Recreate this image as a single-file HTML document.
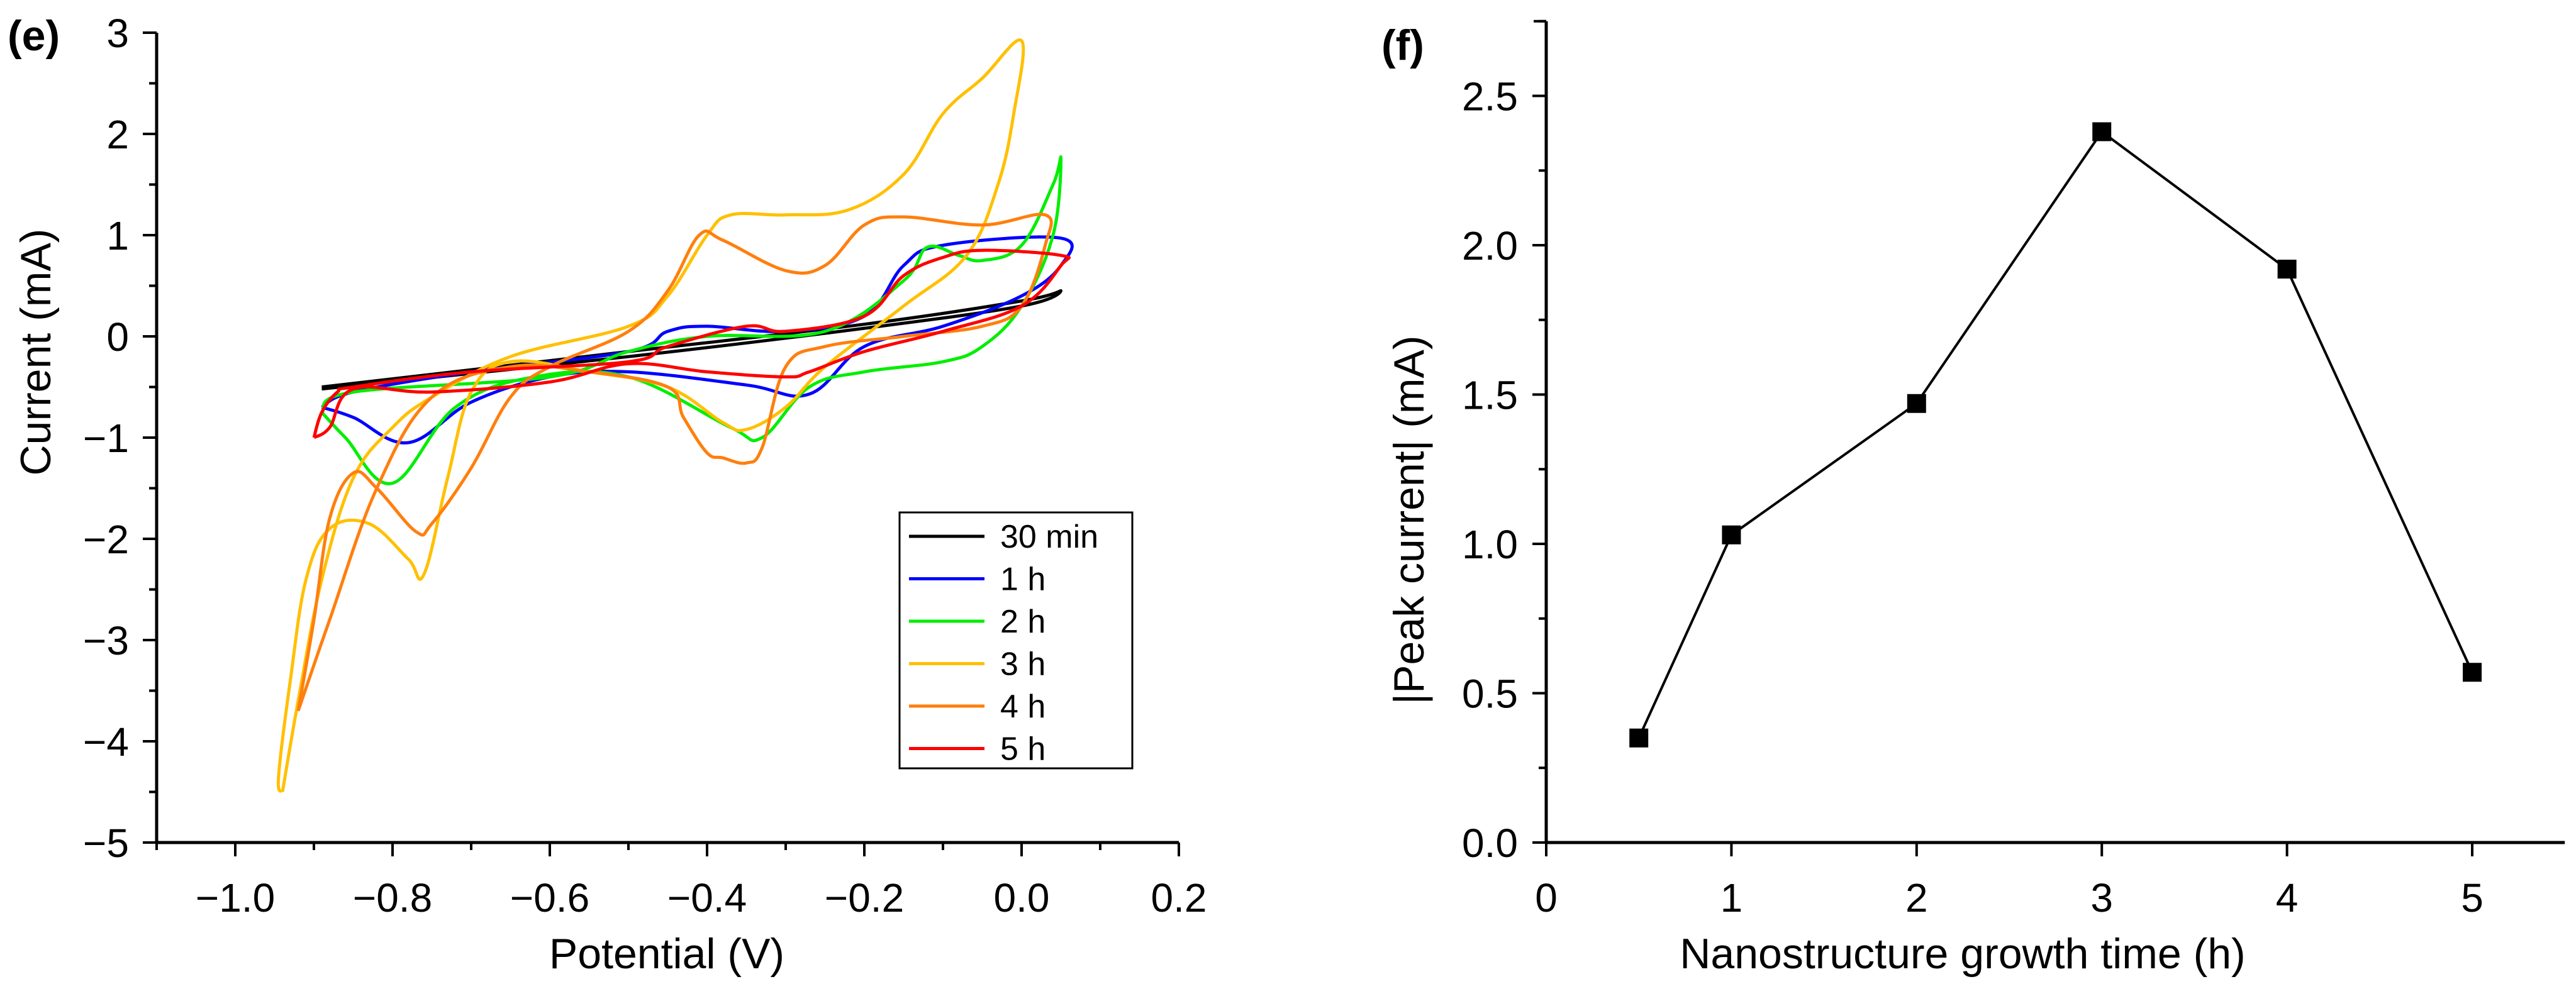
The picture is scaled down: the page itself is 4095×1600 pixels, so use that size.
<!DOCTYPE html>
<html><head><meta charset="utf-8"><style>
body{margin:0;background:#fff}
svg{display:block}
text{font-family:"Liberation Sans",Arial,sans-serif;fill:#000}
</style></head><body>
<svg id="fig" width="4095" height="1600" viewBox="0 0 4095 1600" xmlns="http://www.w3.org/2000/svg">
<text x="12" y="80" font-size="68" font-weight="bold">(e)</text>
<text x="2196" y="95" font-size="68" font-weight="bold">(f)</text>
<g id="left"></g>
<g id="right"></g>
</svg>
<script>
const cvNames = ["30 min","1 h","2 h","3 h","4 h","5 h"];
const cvColors = ["#000000","#0000ff","#00ee00","#ffc000","#ff7f0e","#ff0000"];
const cv30min = [[-0.89,-0.5],[-0.7,-0.33],[-0.5,-0.15],[-0.2,0.12],[0,0.35],[0.05,0.45],[0,0.3],[-0.2,0.08],[-0.5,-0.2],[-0.89,-0.52]];
const cv1h = [[-0.89,-0.7],[-0.85,-0.55],[-0.7,-0.35],[-0.5,-0.15],[-0.45,0.05],[-0.4,0.1],[-0.3,0.05],[-0.2,0.2],[-0.15,0.7],[-0.1,0.9],[0.05,0.97],[0.05,0.7],[0,0.4],[-0.1,0.1],[-0.2,-0.1],[-0.27,-0.57],[-0.35,-0.48],[-0.5,-0.35],[-0.6,-0.4],[-0.7,-0.65],[-0.78,-1.05],[-0.85,-0.8],[-0.89,-0.7]];
const cv2h = [[-0.89,-0.75],[-0.85,-0.55],[-0.6,-0.4],[-0.5,-0.15],[-0.4,0.0],[-0.25,0.05],[-0.15,0.55],[-0.12,0.88],[-0.08,0.8],[-0.05,0.75],[0,0.9],[0.04,1.5],[0.05,1.75],[0.04,1.0],[0.0,0.3],[-0.05,-0.1],[-0.1,-0.25],[-0.2,-0.35],[-0.27,-0.5],[-0.33,-1.0],[-0.37,-0.9],[-0.5,-0.4],[-0.62,-0.4],[-0.72,-0.7],[-0.8,-1.45],[-0.86,-1.0],[-0.89,-0.75]];
const cv3h = [[-0.94,-4.5],[-0.92,-3.6],[-0.89,-2.4],[-0.85,-1.4],[-0.8,-0.9],[-0.75,-0.6],[-0.65,-0.2],[-0.5,0.1],[-0.45,0.4],[-0.4,1.0],[-0.37,1.2],[-0.3,1.2],[-0.22,1.25],[-0.15,1.6],[-0.1,2.2],[-0.05,2.55],[0,2.92],[-0.01,2.2],[-0.03,1.5],[-0.07,0.8],[-0.15,0.3],[-0.25,-0.3],[-0.3,-0.7],[-0.35,-0.92],[-0.38,-0.85],[-0.45,-0.5],[-0.55,-0.35],[-0.65,-0.25],[-0.7,-0.55],[-0.73,-1.4],[-0.76,-2.35],[-0.78,-2.2],[-0.83,-1.85],[-0.88,-1.9],[-0.91,-2.4],[-0.93,-3.4],[-0.945,-4.35],[-0.94,-4.5]];
const cv4h = [[-0.92,-3.7],[-0.9,-2.8],[-0.88,-1.8],[-0.85,-1.35],[-0.82,-1.5],[-0.77,-1.93],[-0.75,-1.85],[-0.7,-1.3],[-0.65,-0.6],[-0.6,-0.3],[-0.5,0.05],[-0.45,0.45],[-0.41,1.0],[-0.38,0.95],[-0.3,0.65],[-0.25,0.7],[-0.2,1.1],[-0.15,1.18],[-0.05,1.1],[0.03,1.2],[0.03,0.9],[0.0,0.3],[-0.05,0.1],[-0.15,0.0],[-0.25,-0.1],[-0.3,-0.3],[-0.33,-1.1],[-0.35,-1.25],[-0.38,-1.2],[-0.4,-1.15],[-0.43,-0.8],[-0.45,-0.5],[-0.55,-0.35],[-0.65,-0.3],[-0.75,-0.6],[-0.82,-1.5],[-0.88,-2.8],[-0.92,-3.7]];
const cv5h = [[-0.9,-1.0],[-0.89,-0.75],[-0.87,-0.55],[-0.85,-0.5],[-0.7,-0.35],[-0.5,-0.25],[-0.45,-0.1],[-0.35,0.1],[-0.3,0.05],[-0.2,0.2],[-0.15,0.6],[-0.1,0.78],[-0.05,0.85],[0.05,0.8],[0.05,0.7],[0.0,0.3],[-0.1,0.05],[-0.2,-0.15],[-0.27,-0.35],[-0.3,-0.4],[-0.4,-0.35],[-0.5,-0.27],[-0.6,-0.45],[-0.75,-0.55],[-0.85,-0.52],[-0.88,-0.9],[-0.9,-1.0]];
const cvSeries = [cv30min,cv1h,cv2h,cv3h,cv4h,cv5h];
const cvXTicks = [-1.0,-0.8,-0.6,-0.4,-0.2,0.0,0.2];
const cvXTickLabels = ["\u22121.0","\u22120.8","\u22120.6","\u22120.4","\u22120.2","0.0","0.2"];
const cvYTicks = [3,2,1,0,-1,-2,-3,-4,-5];
const cvYTickLabels = ["3","2","1","0","\u22121","\u22122","\u22123","\u22124","\u22125"];

const growthTimes = [0.5,1,2,3,4,5];
const peakCurrents = [0.35,1.03,1.47,2.38,1.92,0.57];
const fXTicks = [0,1,2,3,4,5];
const fXTickLabels = ["0","1","2","3","4","5"];
const fYTicks = [0,0.5,1.0,1.5,2.0,2.5];
const fYTickLabels = ["0.0","0.5","1.0","1.5","2.0","2.5"];

const NS="http://www.w3.org/2000/svg";
function mk(parent,tag,attrs,txt){const e=document.createElementNS(NS,tag);for(const k in attrs)e.setAttribute(k,attrs[k]);if(txt!==undefined)e.textContent=txt;parent.appendChild(e);return e;}
function smooth(pts){
  let d='M'+pts[0][0].toFixed(1)+','+pts[0][1].toFixed(1);
  for(let i=0;i<pts.length-1;i++){
    const p0=pts[Math.max(0,i-1)],p1=pts[i],p2=pts[i+1],p3=pts[Math.min(pts.length-1,i+2)];
    const t=0.18;
    const c1=[p1[0]+(p2[0]-p0[0])*t,p1[1]+(p2[1]-p0[1])*t];
    const c2=[p2[0]-(p3[0]-p1[0])*t,p2[1]-(p3[1]-p1[1])*t];
    d+=' C'+c1[0].toFixed(1)+','+c1[1].toFixed(1)+' '+c2[0].toFixed(1)+','+c2[1].toFixed(1)+' '+p2[0].toFixed(1)+','+p2[1].toFixed(1);
  }
  return d;
}

const L=document.getElementById('left');
const lx=v=>249+(v+1.1)*1250;
const ly=v=>52+(3-v)*161;
const lx0=lx(-1.1), lx1=lx(0.2), ly0=ly(-5), ly1=ly(3);
let e;
e=mk(L,'line',{x1:lx0,y1:ly1,x2:lx0,y2:ly0+2,stroke:'#000','stroke-width':5});


e=mk(L,'line',{x1:lx0-2,y1:ly0,x2:lx1,y2:ly0,stroke:'#000','stroke-width':5});


for(let v=-1.1;v<=0.201;v+=0.1){const X=lx(v);const major=cvXTicks.some(t=>Math.abs(t-v)<1e-6);mk(L,'line',{x1:X,y1:ly0,x2:X,y2:ly0+(major?22:12),stroke:'#000','stroke-width':4});}
cvXTicks.forEach((t,i)=>{e=mk(L,'text',{x:lx(t),y:1450,'font-size':64,'text-anchor':'middle'},cvXTickLabels[i]);

});
for(let v=-5;v<=3.001;v+=0.5){const Y=ly(v);const major=Math.abs(v-Math.round(v))<1e-6;mk(L,'line',{x1:lx0,y1:Y,x2:lx0-(major?22:12),y2:Y,stroke:'#000','stroke-width':4});}
cvYTicks.forEach((t,i)=>{e=mk(L,'text',{x:205,y:ly(t)+23,'font-size':64,'text-anchor':'end'},cvYTickLabels[i]);

});
e=mk(L,'text',{x:1060,y:1540,'font-size':68,'text-anchor':'middle'},'Potential (V)');


e=mk(L,'text',{x:0,y:0,'font-size':68,'text-anchor':'middle',transform:'translate(80,560) rotate(-90)'},'Current (mA)');


cvSeries.forEach((s,i)=>{const pts=s.map(p=>[lx(p[0]),ly(p[1])]);
e=mk(L,'path',{d:smooth(pts),fill:'none',stroke:cvColors[i],'stroke-width':5,'stroke-linejoin':'round'});

});
const lg=mk(L,'g',{});


mk(lg,'rect',{x:1430,y:815,width:370,height:407,fill:'#fff',stroke:'#000','stroke-width':3});
cvNames.forEach((n,i)=>{const Y=853+i*67.5;
const g=mk(lg,'g',{});


mk(g,'line',{x1:1445,y1:Y,x2:1565,y2:Y,stroke:cvColors[i],'stroke-width':5});
mk(g,'text',{x:1590,y:Y+18,'font-size':52},n);});

const R=document.getElementById('right');
const rx=v=>2458+v*294.4;
const ry=v=>1340-v*475;
const rx1=rx(5.5), ry1=ry(2.75);
e=mk(R,'line',{x1:rx(0),y1:ry1,x2:rx(0),y2:ry(0)+2,stroke:'#000','stroke-width':5});


mk(R,'line',{x1:rx(0)-20,y1:ry1,x2:rx(0),y2:ry1,stroke:'#000','stroke-width':4});
e=mk(R,'line',{x1:rx(0)-2,y1:ry(0),x2:rx1,y2:ry(0),stroke:'#000','stroke-width':5});


fXTicks.forEach((t,i)=>{mk(R,'line',{x1:rx(t),y1:ry(0),x2:rx(t),y2:ry(0)+22,stroke:'#000','stroke-width':4});
e=mk(R,'text',{x:rx(t),y:1450,'font-size':64,'text-anchor':'middle'},fXTickLabels[i]);

});
for(let v=0;v<=2.751;v+=0.25){const major=Math.abs(v*2-Math.round(v*2))<1e-6;mk(R,'line',{x1:rx(0),y1:ry(v),x2:rx(0)-(major?22:12),y2:ry(v),stroke:'#000','stroke-width':4});}
fYTicks.forEach((t,i)=>{e=mk(R,'text',{x:2413,y:ry(t)+23,'font-size':64,'text-anchor':'end'},fYTickLabels[i]);

});
e=mk(R,'text',{x:3120,y:1540,'font-size':68,'text-anchor':'middle'},'Nanostructure growth time (h)');


e=mk(R,'text',{x:0,y:0,'font-size':68,'text-anchor':'middle',transform:'translate(2263,827) rotate(-90)'},'|Peak current| (mA)');


const pd=growthTimes.map((t,i)=>(i?'L':'M')+rx(t)+','+ry(peakCurrents[i])).join(' ');
e=mk(R,'path',{d:pd,fill:'none',stroke:'#000','stroke-width':4});


growthTimes.forEach((t,i)=>{e=mk(R,'rect',{x:rx(t)-15,y:ry(peakCurrents[i])-15,width:30,height:30,fill:'#000'});

});
</script>
</body></html>
